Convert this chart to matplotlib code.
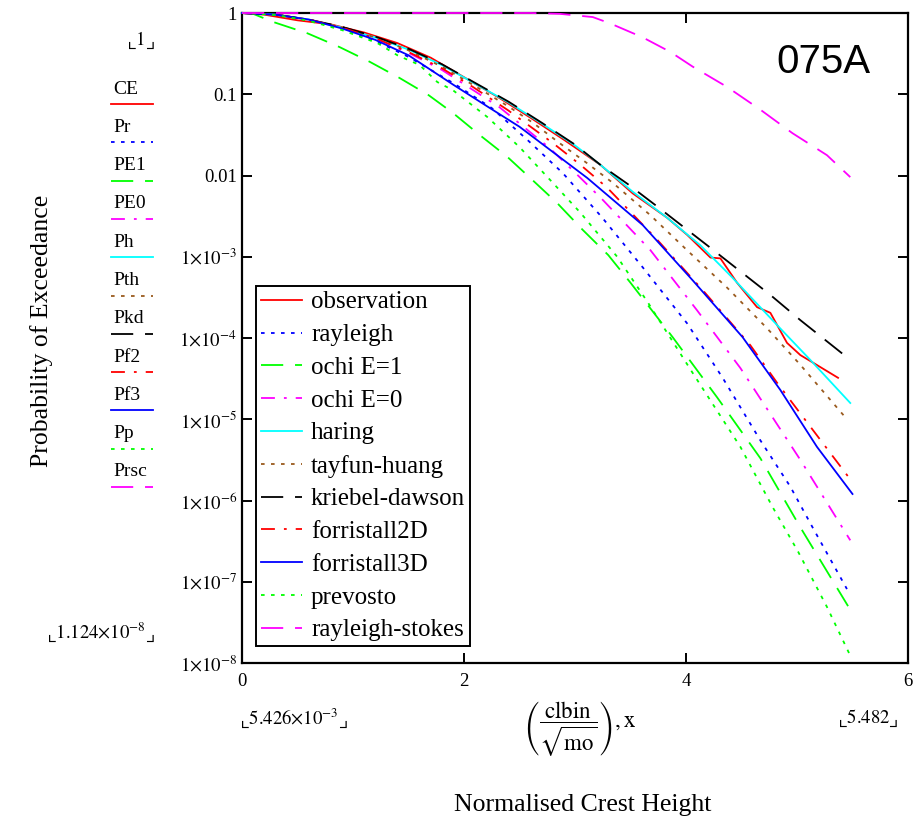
import matplotlib
matplotlib.use("Agg")
import matplotlib.pyplot as plt
import numpy as np
from matplotlib.lines import Line2D
from matplotlib.ticker import NullLocator

plt.rcParams["font.family"] = ["Liberation Serif", "DejaVu Sans"]
plt.rcParams["mathtext.fontset"] = "stix"
plt.rcParams["lines.scale_dashes"] = False

# normalised crest height x = clbin/sqrt(mo) and log10 of exceedance probability
obs_x = [0, 0.2, 0.5, 0.8, 1.1, 1.4, 1.7, 2.0, 2.3, 2.6, 2.9, 3.23, 3.52, 3.83,
         4.01, 4.22, 4.31, 4.46, 4.64, 4.76, 4.91, 5.03, 5.14, 5.37]
obs_lg = [0, -0.02, -0.09, -0.14, -0.24, -0.37, -0.55, -0.79, -1.03, -1.29, -1.56,
          -1.87, -2.22, -2.52, -2.73, -3.01, -3.02, -3.32, -3.62, -3.69, -4.06,
          -4.21, -4.30, -4.49]

ray_x = [0, 0.3, 0.6, 0.9, 1.2, 1.5, 1.9, 2.25, 2.57, 2.89, 3.24, 3.61, 4.01, 4.33,
         4.67, 4.94, 5.14, 5.45]
ray_lg = [0, -0.02, -0.086, -0.19, -0.34, -0.54, -0.86, -1.17, -1.56, -1.97, -2.51,
          -3.13, -3.82, -4.49, -5.26, -5.83, -6.33, -7.09]

ochi1_x = [0, 0.1, 0.28, 0.59, 0.88, 1.15, 1.42, 1.68, 1.90, 2.14, 2.39, 2.62, 2.84,
           3.07, 3.30, 3.50, 3.88, 4.28, 4.67, 5.03, 5.46]
ochi1_lg = [0, -0.01, -0.11, -0.25, -0.42, -0.60, -0.80, -1.01, -1.23, -1.50, -1.77,
            -2.06, -2.34, -2.67, -2.98, -3.32, -3.99, -4.73, -5.48, -6.33, -7.30]

ochi0_x = [0, 0.3, 0.6, 0.9, 1.2, 1.5, 1.8, 2.05, 2.32, 2.5, 2.77, 3.02, 3.25, 3.68,
           4.10, 4.49, 5.03, 5.48]
ochi0_lg = [0, -0.02, -0.08, -0.18, -0.31, -0.49, -0.70, -0.92, -1.16, -1.36, -1.66,
            -1.99, -2.30, -2.92, -3.66, -4.37, -5.50, -6.49]

haring_x = [0, 0.3, 0.6, 0.9, 1.2, 1.5, 1.8, 2.1, 2.4, 2.7, 3.0, 3.23, 3.52, 3.83,
            4.13, 4.42, 4.82, 5.12, 5.48]
haring_lg = [0, -0.02, -0.08, -0.18, -0.30, -0.45, -0.64, -0.87, -1.10, -1.36, -1.63,
             -1.87, -2.20, -2.52, -2.86, -3.26, -3.84, -4.27, -4.80]

tayfun_x = [0, 0.3, 0.6, 0.9, 1.2, 1.5, 1.8, 2.1, 2.4, 2.62, 2.86, 3.11, 3.34, 3.68,
            4.01, 4.37, 4.73, 5.03, 5.45]
tayfun_lg = [0, -0.02, -0.08, -0.18, -0.30, -0.46, -0.66, -0.90, -1.15, -1.35, -1.60,
             -1.85, -2.09, -2.49, -2.92, -3.38, -3.88, -4.33, -5.00]

kd_x = [0, 0.3, 0.6, 0.9, 1.2, 1.5, 1.8, 2.1, 2.4, 2.7, 3.0, 3.23, 3.47, 3.72, 4.22,
        4.76, 5.03, 5.48]
kd_lg = [0, -0.02, -0.08, -0.17, -0.29, -0.44, -0.63, -0.86, -1.09, -1.35, -1.62,
         -1.87, -2.10, -2.36, -2.89, -3.47, -3.78, -4.27]

f2d_x = [0, 0.3, 0.6, 0.9, 1.2, 1.5, 1.8, 2.08, 2.4, 2.8, 3.05, 3.29, 3.74, 4.15,
         4.58, 4.82, 5.48]
f2d_lg = [0, -0.02, -0.08, -0.18, -0.31, -0.48, -0.68, -0.91, -1.20, -1.60, -1.87,
          -2.15, -2.79, -3.41, -4.09, -4.55, -5.74]

f3d_x = [0, 0.3, 0.6, 0.9, 1.2, 1.5, 1.9, 2.21, 2.5, 2.8, 3.11, 3.61, 4.06, 4.51,
         4.85, 5.18, 5.50]
f3d_lg = [0, -0.02, -0.08, -0.19, -0.33, -0.52, -0.88, -1.15, -1.40, -1.71, -2.03,
          -2.61, -3.29, -3.99, -4.64, -5.34, -5.92]

prev_x = [0, 0.3, 0.6, 0.9, 1.22, 1.40, 1.60, 1.76, 1.90, 2.21, 2.50, 2.80, 3.05,
          3.38, 3.66, 4.06, 4.49, 4.78, 5.01, 5.27, 5.48]
prev_lg = [0, -0.024, -0.095, -0.21, -0.37, -0.52, -0.64, -0.85, -0.95, -1.28, -1.65,
           -2.09, -2.46, -3.00, -3.57, -4.43, -5.34, -6.08, -6.63, -7.31, -7.91]

rs_x = [0, 1.0, 2.0, 2.6, 2.86, 3.16, 3.32, 3.61, 3.86, 4.06, 4.37, 4.67, 4.96,
        5.27, 5.48]
rs_lg = [0, 0, 0, 0, -0.01, -0.05, -0.13, -0.30, -0.48, -0.66, -0.91, -1.19, -1.48,
         -1.75, -2.02]

legend_labels = ["observation", "rayleigh", "ochi E=1", "ochi E=0", "haring",
                 "tayfun-huang", "kriebel-dawson", "forristall2D", "forristall3D",
                 "prevosto", "rayleigh-stokes"]
trace_names = ["CE", "Pr", "PE1", "PE0", "Ph", "Pth", "Pkd", "Pf2", "Pf3", "Pp", "Prsc"]

y_ticks = [1, 0.1, 0.01, 1e-3, 1e-4, 1e-5, 1e-6, 1e-7, 1e-8]
y_tick_labels = ["1", "0.1", "0.01", r"$1{\times}10^{-3}$", r"$1{\times}10^{-4}$",
                 r"$1{\times}10^{-5}$", r"$1{\times}10^{-6}$", r"$1{\times}10^{-7}$",
                 r"$1{\times}10^{-8}$"]
x_ticks = [0, 2, 4, 6]

# Mathcad-like trace styles
SOLID = "-"
DOT = (0, (2.6, 4.6))
DASH = (0, (16.0, 8.5))
DADOT = (0, (10.0, 6.5, 2.0, 6.5))
BROWN = "#9A5A1E"

series = [
    (obs_x, obs_lg, "#FF0000", SOLID),
    (ray_x, ray_lg, "#0000FF", DOT),
    (ochi1_x, ochi1_lg, "#00FF00", DASH),
    (ochi0_x, ochi0_lg, "#FF00FF", DADOT),
    (haring_x, haring_lg, "#00FFFF", SOLID),
    (tayfun_x, tayfun_lg, BROWN, DOT),
    (kd_x, kd_lg, "#000000", DASH),
    (f2d_x, f2d_lg, "#FF0000", DADOT),
    (f3d_x, f3d_lg, "#0000FF", SOLID),
    (prev_x, prev_lg, "#00FF00", DOT),
    (rs_x, rs_lg, "#FF00FF", DASH),
]

W, H = 920, 823
fig = plt.figure(figsize=(W / 100, H / 100), dpi=100)
ax = fig.add_axes([242 / W, 1 - 663 / H, 666 / W, 650 / H])


def fx(px):
    return px / W


def fy(py):
    return 1 - py / H


for (xs, lg, color, ls), label in zip(series, legend_labels):
    ax.plot(xs, 10.0 ** np.asarray(lg), color=color, linestyle=ls, linewidth=1.3,
            label=label, zorder=3, clip_on=False)

ax.set_yscale("log")
ax.set_xlim(0, 6)
ax.set_ylim(1e-8, 1)
ax.set_yticks(y_ticks, y_tick_labels)
ax.set_xticks(x_ticks, [str(t) for t in x_ticks])
ax.yaxis.set_minor_locator(NullLocator())
ax.tick_params(direction="in", length=7.5, width=1.4, top=True, right=True,
               labelsize=13.5, color="black")
ax.tick_params(axis="y", pad=3.5)
ax.tick_params(axis="x", pad=7)
for sp in ax.spines.values():
    sp.set_linewidth(1.6)

leg = ax.legend(loc="upper left", bbox_to_anchor=(fx(256), fy(286)),
                bbox_transform=fig.transFigure, borderaxespad=0, fontsize=18,
                handlelength=1.65, handletextpad=0.35, labelspacing=0.41,
                borderpad=0.2, fancybox=False, framealpha=1, edgecolor="black")
leg.get_frame().set_linewidth(1.4)
leg.set_zorder(5)

# trace names with their line samples on the left
for i, ((xs, lg, color, ls), name) in enumerate(zip(series, trace_names)):
    ly = 104 + i * 38.3
    fig.text(fx(113), fy(ly - 15), name, fontsize=14, ha="left", va="center")
    fig.add_artist(Line2D([fx(111), fx(153)], [fy(ly), fy(ly)], color=color,
                          linestyle=ls, linewidth=1.3))

fig.text(fx(155), fy(40), r"$⌞1⌟$", fontsize=13.5, ha="right", va="center")
fig.text(fx(155), fy(632), r"$⌞1.124{\times}10^{-8}⌟$", fontsize=13.5,
         ha="right", va="center")
fig.text(fx(240), fy(718), r"$⌞5.426{\times}10^{-3}⌟$", fontsize=13.5,
         ha="left", va="center")
fig.text(fx(899), fy(718), r"$⌞5.482⌟$", fontsize=13.5, ha="right", va="center")
fig.text(fx(580), fy(729),
         r"$\left(\dfrac{\mathrm{clbin}}{\sqrt{\mathrm{mo}}}\right),\mathrm{x}$",
         fontsize=16.5, ha="center", va="center")

fig.text(fx(583), fy(805), "Normalised Crest Height", fontsize=18.5,
         ha="center", va="center")
fig.text(fx(42), fy(331), "Probability of Exceedance", fontsize=18.5,
         rotation=90, ha="center", va="center")
fig.text(fx(823), fy(62), "075A", fontsize=29, family="Liberation Sans",
         ha="center", va="center")

fig.savefig("out.png", dpi=100)
